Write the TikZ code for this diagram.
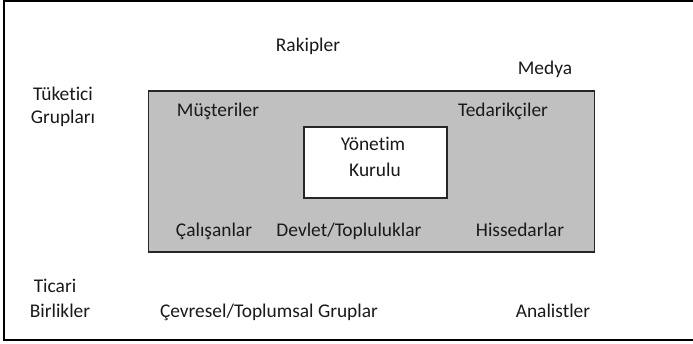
\documentclass[tikz,border=0pt]{standalone}
\usepackage{fontspec}
\setmainfont{Carlito}[RawFeature={-liga}]
\begin{document}
\begin{tikzpicture}[x=1pt,y=-1pt,
  lbl/.style={font=\fontsize{19.4}{23}\selectfont, inner sep=0pt, anchor=base, text=black!90},
  outerframe/.style={draw=black, line width=2pt},
  graybox/.style={draw=black!85, line width=1.6pt, fill={rgb,255:red,192;green,192;blue,192}},
  whitebox/.style={draw=black!85, line width=1.6pt, fill=white}]
\useasboundingbox (0,0) rectangle (693,344);
\draw[outerframe] (4,1.5) rectangle (720,340.5);
\node[graybox, minimum width=446pt, minimum height=161pt, inner sep=0pt] (ring) at (371.5,171.5) {};
\node[whitebox, minimum width=143pt, minimum height=71pt, inner sep=0pt] (board) at (375.5,162.5) {};
\node[lbl] (rak) at (308,52) {Rakipler};
\node[lbl] (med) at (545,75) {Medya};
\node[lbl] (tuk1) at (63,101) {Tüketici};
\node[lbl] (tuk2) at (63,124) {Grupları};
\node[lbl] (mus) at (218,117) {Müşteriler};
\node[lbl] (ted) at (503,117) {Tedarikçiler};
\node[lbl] (yon1) at (373,151) {Yönetim};
\node[lbl] (yon2) at (375,177) {Kurulu};
\node[lbl] (cal) at (214,237) {Çalışanlar};
\node[lbl] (dev) at (349,237) {Devlet/Topluluklar};
\node[lbl] (his) at (520,237) {Hissedarlar};
\node[lbl] (tic1) at (55,293) {Ticari};
\node[lbl] (tic2) at (60,318) {Birlikler};
\node[lbl] (cev) at (269,318) {Çevresel/Toplumsal Gruplar};
\node[lbl] (ana) at (553,318) {Analistler};
\end{tikzpicture}
\end{document}
